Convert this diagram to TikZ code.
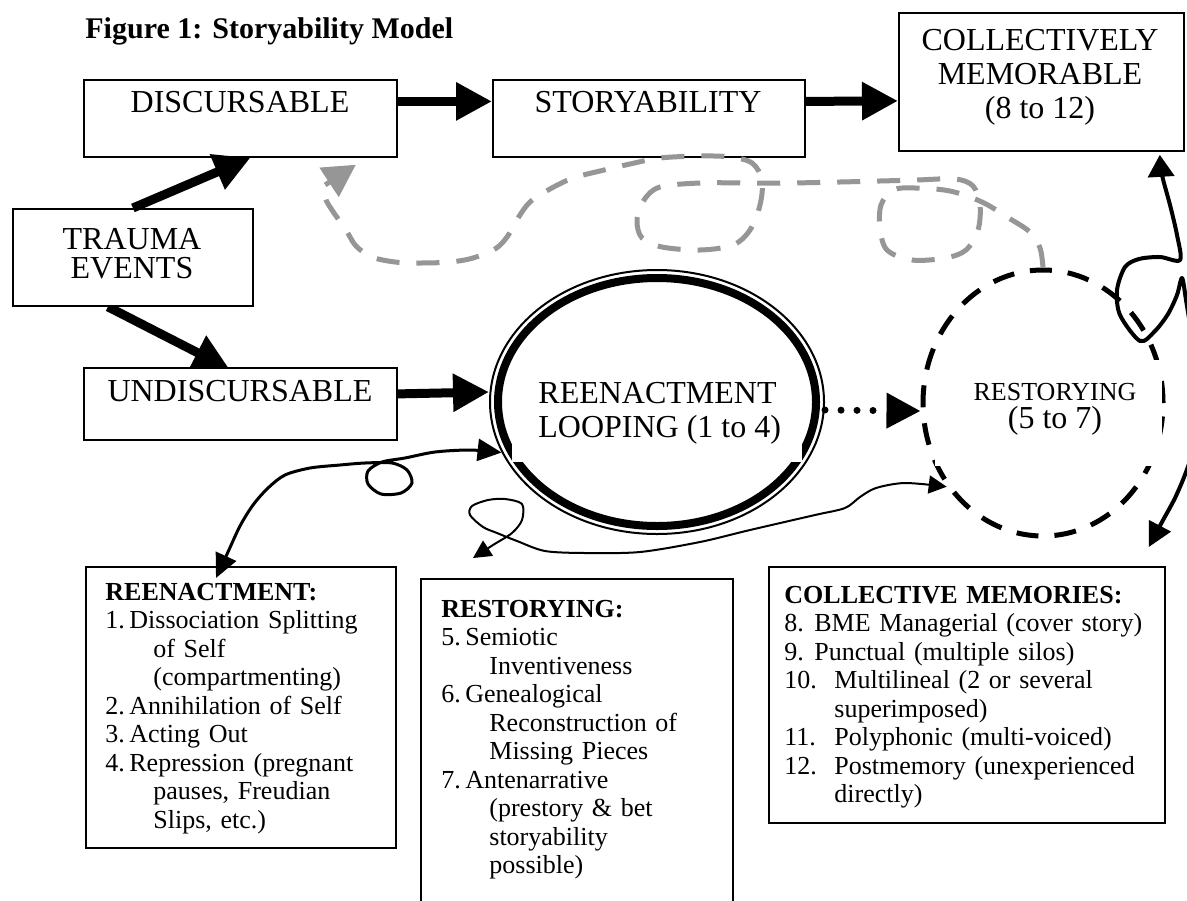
\documentclass[tikz,border=0pt]{standalone}
\usepackage{fontspec}
\setmainfont{Liberation Serif}
\usetikzlibrary{arrows.meta,shapes.geometric,calc}
\pgfdeclarelayer{back}
\pgfsetlayers{back,main}

% numbered line: number box width, hanging indent, number, text
\newcommand{\listline}[4]{\hangindent=#2\hangafter=1\noindent\makebox[#1][l]{#3}#4\par}

\definecolor{pathgrey}{RGB}{150,150,150}

\tikzset{
  lblbox/.style={draw, line width=0.9pt, fill=white, inner sep=0pt, anchor=north west},
  listbox/.style={draw, line width=0.9pt, fill=white, inner sep=0pt, anchor=north west},
  lbl/.style={inner sep=0pt, anchor=base, font=\fontsize{16pt}{17pt}\selectfont},
  listtext/.style={inner sep=0pt, anchor=base west, align=left,
    font=\fontsize{13pt}{14.25pt}\selectfont,
    execute at begin node=\setlength{\parskip}{0pt}},
  thickarrow/.style={line width=4.5pt, -{Triangle[length=18pt,width=18pt]}},
  dotarrow/.style={line width=3.5pt, line cap=round, dash pattern=on 0pt off 8pt,
    -{Triangle[length=17pt,width=17pt]}},
  greypath/.style={draw=pathgrey, line width=2.5pt, dash pattern=on 11.5pt off 8.5pt,
    -{Triangle[length=16pt,width=17pt]}},
  freecurve/.style={line join=round}
}

\begin{document}
\begin{tikzpicture}[x=0.5pt,y=-0.5pt]
\begin{pgfonlayer}{back}
  \fill[white] (0,0) rectangle (1187,900);
\end{pgfonlayer}
\useasboundingbox (0,0) rectangle (1187,900);
\clip (0,0) rectangle (1187,900);

% title
\node[anchor=base west, inner sep=0pt, font=\fontsize{15pt}{17pt}\selectfont\bfseries]
  (title) at (85,38) {Figure 1: Storyability Model};

% top row
\node[lblbox, minimum width=156.5pt, minimum height=38.5pt] (disc) at (83,79) {};
\node[lbl] (disct) at (240,112) {DISCURSABLE};
\node[lblbox, minimum width=156pt, minimum height=38.5pt] (story) at (492,79) {};
\node[lbl] (storyt) at (648,112) {STORYABILITY};
\node[lblbox, minimum width=142.5pt, minimum height=69pt] (collmem) at (898,12) {};
\node[lbl] (cm1) at (1040,50) {COLLECTIVELY};
\node[lbl] (cm2) at (1040,84) {MEMORABLE};
\node[lbl] (cm3) at (1040,118) {(8 to 12)};

% trauma and undiscursable
\node[lblbox, minimum width=120pt, minimum height=48.5pt] (trauma) at (12,208) {};
\node[lbl] (tr1) at (132,249) {TRAUMA};
\node[lbl] (tr2) at (132,278) {EVENTS};
\node[lblbox, minimum width=156.5pt, minimum height=36pt] (undisc) at (83,367) {};
\node[lbl] (undisct) at (240,401) {UNDISCURSABLE};

% reenactment looping: thin outer ring, heavy inner ring
\node[ellipse, draw, line width=1pt, minimum width=167pt, minimum height=132pt, inner sep=0pt]
  (loop) at (657,402) {};
\draw[line width=4pt] (loop.center) ellipse [x radius=159, y radius=124];
\fill[white] (512,362) rectangle (802,462);
\node[lbl, anchor=base west] (loopa) at (538,403) {REENACTMENT};
\node[lbl, anchor=base west] (loopb) at (538,437) {LOOPING (1 to 4)};

% restorying ring
\node[ellipse, draw, line width=2.5pt, dash pattern=on 11pt off 8pt,
  minimum width=120pt, minimum height=133pt, inner sep=0pt] (restc) at (1043,403) {};
\fill[white] (935,360) rectangle (1162,466);
\node[inner sep=0pt, anchor=base, font=\fontsize{13pt}{14pt}\selectfont]
  (resta) at (1055,400) {RESTORYING};
\node[lbl] (restb) at (1055,428) {(5 to 7)};

% list boxes
\node[listbox, minimum width=155pt, minimum height=140.5pt] (reenbox) at (85,566) {};
\node[listtext, text width=145pt] (reentxt) at (105,600) {%
  \textbf{REENACTMENT:}\par
  \listline{12pt}{24pt}{1.}{Dissociation Splitting\newline of Self\newline (compartmenting)}
  \listline{12pt}{24pt}{2.}{Annihilation of Self}
  \listline{12pt}{24pt}{3.}{Acting Out}
  \listline{12pt}{24pt}{4.}{Repression (pregnant\newline pauses, Freudian\newline Slips, etc.)}};

\node[listbox, minimum width=156pt, minimum height=174pt] (restbox) at (420,578) {};
\node[listtext, text width=140pt] (resttxt) at (441,617) {%
  \textbf{RESTORYING:}\par
  \listline{12pt}{24pt}{5.}{Semiotic\newline Inventiveness}
  \listline{12pt}{24pt}{6.}{Genealogical\newline Reconstruction of\newline Missing Pieces}
  \listline{12pt}{24pt}{7.}{Antenarrative\newline (prestory \& bet\newline storyability\newline possible)}};

\node[listbox, minimum width=198pt, minimum height=128pt] (collbox) at (768,566) {};
\node[listtext, text width=186pt] (colltxt) at (784,603) {%
  \textbf{COLLECTIVE MEMORIES:}\par
  \listline{15pt}{25pt}{8.}{BME Managerial (cover story)}
  \listline{15pt}{25pt}{9.}{Punctual (multiple silos)}
  \listline{25pt}{25pt}{10.}{Multilineal (2 or several\newline superimposed)}
  \listline{25pt}{25pt}{11.}{Polyphonic (multi-voiced)}
  \listline{25pt}{25pt}{12.}{Postmemory (unexperienced\newline directly)}};

% heavy arrows
\draw[thickarrow] ([yshift=8.5pt]disc.east) -- ([yshift=8.5pt]story.west);
\draw[thickarrow] ([yshift=8.5pt]story.east) -- ([yshift=-9.5pt]collmem.west);
\draw[thickarrow] (trauma.north) -- ([xshift=5pt]disc.south);
\begin{pgfonlayer}{back}
  \draw[thickarrow] ([xshift=-12.5pt]trauma.south) -- ([xshift=-5.5pt,yshift=-1pt]undisc.north);
\end{pgfonlayer}
\draw[thickarrow] ([yshift=5pt]undisc.east) -- ([yshift=5pt]loop.west);

% dotted step from looping to restorying
\draw[dotarrow] ([yshift=-4pt]loop.east) -- ([yshift=-4pt]restc.west);

% grey return path back to discursable
\draw[greypath] plot[smooth, tension=0.55] coordinates {
  (restc.north) (1040,248) (1030,232) (1007,217) (982,202) (950,191) (915,188)
  (893,190) (881,205) (880,228) (887,250) (912,260) (945,258) (966,250) (978,230)
  (980,205) (973,186) (955,179) (917,180) (880,181) (840,182) (790,183) (750,183)
  (700,183) (660,187) (644,200) (637,220) (642,238) (662,247) (700,250) (733,245)
  (750,230) (760,205) (762,180) (752,163) (730,157) (700,156) (660,158) (630,164)
  (600,171) (573,178) (550,189) (530,202) (518,218) (507,237) (495,249) (473,258)
  (450,262) (420,263) (395,262) (372,257) (356,246) (346,230) (334,213) (326,200)
  (322,187)} -- ([xshift=-21pt,yshift=-3.5pt]disc.south east);

% right loop between collectively memorable and collective memories
\draw[freecurve, line width=2pt, {Triangle[length=11pt,width=13pt]}-{Triangle[length=12pt,width=12pt]}]
  plot[smooth, tension=0.5] coordinates {
  ([xshift=-12.5pt,yshift=-1.5pt]collmem.south east) (1162,175) (1170,205) (1177,235)
  (1180,260) (1160,257) (1139,259) (1125,267) (1117,290) (1120,315) (1140,341)
  (1155,331) (1168,314) (1177,295) (1182,278) (1186,300) (1192,340) (1197,400)
  (1194,445) (1186,472) (1175,498) (1162,522) ([xshift=-8.5pt,yshift=9.5pt]collbox.north east)};

% curve between looping and the reenactment list
\draw[freecurve, line width=1.5pt, {Triangle[length=12pt,width=11pt]}-{Triangle[length=12pt,width=11pt]}]
  plot[smooth, tension=0.5] coordinates {
  ([xshift=65.5pt,yshift=-6pt]reenbox.north west) (228,552) (240,526) (253,505)
  (268,488) (285,475) (310,468) (340,465) (365,463) (392,463) (407,470) (412,483)
  (401,493) (381,494) (368,484) (368,471) (382,462) (405,458) (435,452) (470,450)
  (loop.198)};

% curve between restorying list and restorying ring
\draw[freecurve, line width=1pt, {Triangle[length=9pt,width=9pt]}-{Triangle[length=9pt,width=9pt]}]
  plot[smooth, tension=0.5] coordinates {
  ([xshift=26.5pt,yshift=10pt]restbox.north west) (493,545) (512,533) (522,520)
  (522,504) (505,499) (488,500) (472,506) (470,515) (483,527) (497,533) (517,541)
  (545,551) (585,553) (640,552) (700,542) (750,530) (815,515) (845,508) (860,497)
  (876,488) (905,483) (restc.221)};
\end{tikzpicture}
\end{document}
